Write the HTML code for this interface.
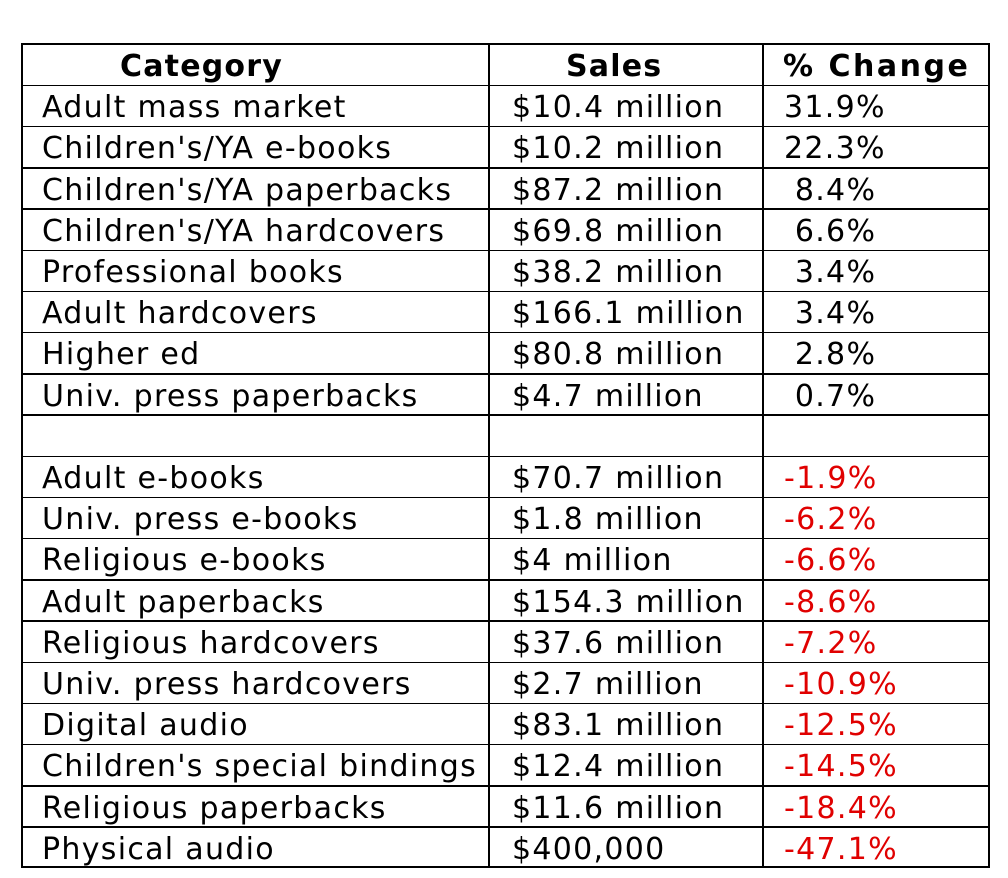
<!DOCTYPE html>
<html><head><style>
body{margin:0;width:1008px;height:878px;background:#fff;position:relative;overflow:hidden;font-family:"DejaVu Sans","Liberation Sans",sans-serif;font-size:30px;letter-spacing:1.3px;color:#000}
.t{position:absolute;left:21px;top:43px;width:969px;height:825px;border:2px solid #000;box-sizing:border-box}
.h{position:absolute;left:21px;width:969px;height:1.5px;background:#000}
.v{position:absolute;top:43px;height:825px;width:1.5px;background:#000}
.c{position:absolute;white-space:pre;line-height:41px;height:41px}
.r{color:#e00000}
</style></head><body>
<div class="t"></div>
<div class="v" style="left:488px"></div>
<div class="v" style="left:762px"></div>
<div id="rows"></div>
<script>
var data=[
["Category","Sales","% Change",2],
["Adult mass market","$10.4 million","31.9%"],
["Children's/YA e-books","$10.2 million","22.3%"],
["Children's/YA paperbacks","$87.2 million"," 8.4%"],
["Children's/YA hardcovers","$69.8 million"," 6.6%"],
["Professional books","$38.2 million"," 3.4%"],
["Adult hardcovers","$166.1 million"," 3.4%"],
["Higher ed","$80.8 million"," 2.8%"],
["Univ. press paperbacks","$4.7 million"," 0.7%"],
["","",""],
["Adult e-books","$70.7 million","-1.9%",1],
["Univ. press e-books","$1.8 million","-6.2%",1],
["Religious e-books","$4 million","-6.6%",1],
["Adult paperbacks","$154.3 million","-8.6%",1],
["Religious hardcovers","$37.6 million","-7.2%",1],
["Univ. press hardcovers","$2.7 million","-10.9%",1],
["Digital audio","$83.1 million","-12.5%",1],
["Children's special bindings","$12.4 million","-14.5%",1],
["Religious paperbacks","$11.6 million","-18.4%",1],
["Physical audio","$400,000","-47.1%",1]];
var h="";
for(var i=0;i<data.length;i++){
 var y=44+i*41.2,d=data[i];
 if(i>0)h+='<div class="h" style="top:'+(y-0.5)+'px"></div>';
 var ty=y+2;
 if(d[3]==2){
  h+='<div class="c" style="top:'+ty+'px;left:120px;font-weight:bold;letter-spacing:1.2px">'+d[0]+'</div>';
  h+='<div class="c" style="top:'+ty+'px;left:566px;font-weight:bold;letter-spacing:1.2px">'+d[1]+'</div>';
  h+='<div class="c" style="top:'+ty+'px;left:783px;font-weight:bold;letter-spacing:2.5px">'+d[2]+'</div>';
 }else{
  h+='<div class="c" style="top:'+ty+'px;left:42px">'+d[0]+'</div>';
  h+='<div class="c" style="top:'+ty+'px;left:512px">'+d[1]+'</div>';
  h+='<div class="c'+(d[3]?' r':'')+'" style="top:'+ty+'px;left:784px">'+d[2]+'</div>';
 }
}
document.getElementById("rows").innerHTML=h;
</script>
</body></html>
